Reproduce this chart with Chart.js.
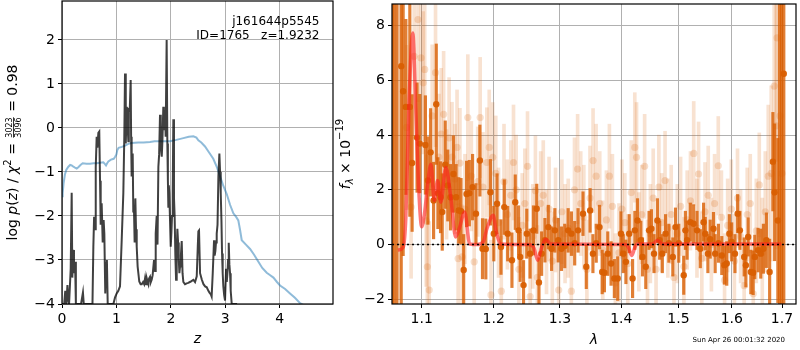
<!DOCTYPE html>
<html>
<head>
<meta charset="utf-8">
<script src="https://cdn.jsdelivr.net/npm/chart.js@4.4.1/dist/chart.umd.min.js"></script>
<style>
  html, body { margin: 0; padding: 0; background: #fff; }
  #wrap { position: relative; width: 800px; height: 350px; }
  #pz { position: absolute; left: 0; top: 0; }
  #spec { position: absolute; left: 335px; top: 0; }
</style>
</head>
<body>
<div id="wrap">
  <canvas id="pz" width="340" height="350"></canvas>
  <canvas id="spec" width="465" height="350"></canvas>
</div>
<script>
// ---- redshift probability, log p(z) ----
const objName = 'j161644p5545';
const objId = 1765;
const zBest = 1.9232;

const zGrid = [
  0.00, 0.04, 0.06, 0.08, 0.10, 0.115, 0.13, 0.16, 0.178, 0.19,
  0.205, 0.22, 0.24, 0.255, 0.30, 0.35, 0.385, 0.40, 0.50, 0.56,
  0.576, 0.59, 0.607, 0.62, 0.637, 0.65, 0.668, 0.685, 0.699, 0.711,
  0.729, 0.748, 0.765, 0.778, 0.795, 0.809, 0.825, 0.84, 0.90, 0.944,
  0.975, 1.005, 1.035, 1.066, 1.097, 1.127, 1.145, 1.158, 1.168, 1.176,
  1.19, 1.20, 1.219, 1.228, 1.245, 1.262, 1.27, 1.28, 1.299, 1.31,
  1.323, 1.335, 1.348, 1.36, 1.373, 1.39, 1.42, 1.445, 1.465, 1.49,
  1.51, 1.526, 1.545, 1.556, 1.575, 1.587, 1.60, 1.618, 1.633, 1.648,
  1.665, 1.691, 1.71, 1.722, 1.74, 1.755, 1.771, 1.785, 1.801, 1.815,
  1.833, 1.845, 1.862, 1.872, 1.881, 1.893, 1.905, 1.9232, 1.936, 1.946,
  1.954, 1.963, 1.972, 1.985, 1.998, 2.01, 2.022, 2.035, 2.046, 2.058,
  2.07, 2.083, 2.096, 2.108, 2.12, 2.133, 2.145, 2.157, 2.169, 2.185,
  2.20, 2.215, 2.23, 2.26, 2.292, 2.32, 2.35, 2.38, 2.414, 2.445,
  2.476, 2.495, 2.506, 2.518, 2.537, 2.57, 2.60, 2.63, 2.66, 2.69,
  2.71, 2.735, 2.75, 2.77, 2.794, 2.805, 2.818, 2.83, 2.843, 2.858,
  2.874, 2.892, 2.905, 2.917, 2.93, 2.941, 2.953, 2.965, 2.98, 2.996,
  3.015, 3.028, 3.04, 3.052, 3.064, 3.076, 3.088, 3.10, 3.119, 3.20,
  3.25
];
const logPz = [
  -4.00, -4.00, -3.70, -4.00, -3.57, -3.90, -4.00, -3.20, -1.47, -3.40,
  -2.77, -3.30, -3.04, -4.00, -4.00, -4.00, -3.74, -4.00, -4.00, -4.00,
  -2.70, -2.02, -2.30, -0.90, -0.20, -0.45, -0.11, -0.08, -1.20, -2.20,
  -1.71, -2.60, -2.09, -2.40, -3.76, -3.07, -3.00, -4.00, -4.00, -4.00,
  -3.85, -3.76, -3.70, -3.60, -2.55, -1.48, -0.20, 1.24, 0.30, -0.35,
  0.48, 0.20, -0.30, 0.42, 0.40, 1.09, -0.20, -1.10, -0.58, -1.90,
  -1.86, -2.60, -1.60, -2.30, -2.70, -3.15, -3.49, -3.55, -3.55, -3.50,
  -3.55, -3.42, -3.55, -3.41, -3.50, -3.55, -3.42, -3.38, -3.50, -3.45,
  -3.35, -3.00, -3.25, -2.40, -2.00, -2.65, -0.88, -0.60, 0.30, -0.40,
  -0.65, -0.30, 0.48, 0.10, -0.05, 0.40, -0.20, 2.00, -0.35, -1.20,
  -1.79, -1.30, -1.48, -2.10, -2.70, -2.40, -2.00, -1.40, 0.20, -1.60,
  -2.00, -2.90, -3.45, -2.80, -2.29, -2.60, -2.95, -3.30, -3.15, -2.90,
  -2.57, -3.30, -3.50, -3.55, -3.53, -3.52, -3.50, -3.48, -3.45, -3.50,
  -3.37, -2.70, -2.35, -2.33, -3.30, -3.45, -3.55, -3.60, -3.62, -3.70,
  -3.74, -3.78, -3.83, -3.30, -2.55, -2.90, -2.80, -2.60, -2.40, -2.20,
  -1.10, -0.58, -1.00, -1.48, -2.10, -2.85, -3.30, -3.60, -3.80, -3.92,
  -3.20, -3.50, -3.30, -3.00, -2.61, -3.10, -3.30, -3.70, -4.00, -4.00,
  -4.60
];

// prior curve
const zPrior = [
  0.00, 0.012, 0.03, 0.055, 0.08, 0.117, 0.15, 0.178, 0.21, 0.239,
  0.27, 0.30, 0.34, 0.38, 0.45, 0.515, 0.58, 0.637, 0.70, 0.76,
  0.79, 0.809, 0.83, 0.852, 0.90, 0.95, 0.974, 1.00, 1.017, 1.04,
  1.07, 1.10, 1.158, 1.22, 1.28, 1.40, 1.50, 1.618, 1.70, 1.74,
  1.85, 1.985, 2.10, 2.23, 2.33, 2.414, 2.47, 2.506, 2.56, 2.628,
  2.70, 2.78, 2.85, 2.904, 2.96, 3.027, 3.09, 3.149, 3.20, 3.24,
  3.27, 3.303, 3.38, 3.456, 3.53, 3.609, 3.68, 3.762, 3.82, 3.885,
  3.95, 4.007, 4.10, 4.19, 4.28, 4.375, 4.406, 4.50
];
const logPrior = [
  -1.55, -1.48, -1.25, -1.05, -0.95, -0.88, -0.84, -0.85, -0.88, -0.90,
  -0.92, -0.89, -0.84, -0.80, -0.81, -0.81, -0.80, -0.80, -0.79, -0.78,
  -0.82, -0.85, -0.80, -0.76, -0.72, -0.70, -0.66, -0.60, -0.50, -0.45,
  -0.44, -0.43, -0.40, -0.36, -0.34, -0.33, -0.33, -0.32, -0.30, -0.30,
  -0.30, -0.30, -0.27, -0.23, -0.20, -0.19, -0.22, -0.28, -0.33, -0.42,
  -0.55, -0.70, -0.90, -1.10, -1.30, -1.50, -1.75, -1.94, -2.02, -2.10,
  -2.30, -2.55, -2.65, -2.75, -2.88, -3.04, -3.18, -3.29, -3.34, -3.40,
  -3.50, -3.58, -3.66, -3.76, -3.86, -3.98, -4.00, -4.08
];

const zTicks = [0, 1, 2, 3, 4];
const pzTicks = [-4, -3, -2, -1, 0, 1, 2];

// ---- 1D spectrum ----
// first orientation (solid)
const lamDark = [
  1.0615, 1.0640, 1.0675, 1.0731, 1.0756, 1.0791, 1.0843, 1.0873, 1.0938, 1.0974,
  1.1049, 1.1083, 1.1119, 1.1159, 1.1195, 1.1217, 1.1253, 1.1276, 1.1317, 1.1352,
  1.1389, 1.1430, 1.1467, 1.1503, 1.1535, 1.1572, 1.1613, 1.1651, 1.1697, 1.1745,
  1.1801, 1.1838, 1.1886, 1.1952, 1.2001, 1.2048, 1.2106, 1.2154, 1.2204, 1.2267,
  1.2316, 1.2366, 1.2390, 1.2440, 1.2489, 1.2538, 1.2590, 1.2640, 1.2674, 1.2715,
  1.2766, 1.2818, 1.2869, 1.2920, 1.2972, 1.3024, 1.3075, 1.3129, 1.3181, 1.3233,
  1.3287, 1.3367, 1.3420, 1.3482, 1.3528, 1.3582, 1.3636, 1.3680, 1.3717, 1.3773,
  1.3828, 1.3883, 1.3939, 1.3994, 1.4033, 1.4078, 1.4134, 1.4192, 1.4231, 1.4277,
  1.4334, 1.4363, 1.4420, 1.4477, 1.4519, 1.4564, 1.4624, 1.4664, 1.4711, 1.4769,
  1.4828, 1.4899, 1.4947, 1.5006, 1.5097, 1.5127, 1.5158, 1.5218, 1.5278, 1.5341,
  1.5402, 1.5463, 1.5494, 1.5544, 1.5587, 1.5649, 1.5681, 1.5743, 1.5807, 1.5857,
  1.5902, 1.5952, 1.5998, 1.6061, 1.6113, 1.6157, 1.6241, 1.6274, 1.6319, 1.6372,
  1.6417, 1.6450, 1.6515, 1.6569, 1.6622, 1.6682, 1.6748, 1.6814, 1.6849, 1.6915,
  1.6950, 1.6990, 1.7037
];
const fluxDark = [
  10.0, -4.0, 12.0, 6.52, 5.60, 5.03, 5.03, 2.98, 3.91, 3.69,
  3.64, 2.34, 3.37, 1.61, 5.13, 1.88, 1.73, 1.19, 2.92, 2.16,
  1.73, 2.58, 1.73, 1.25, 1.22, -0.93, 1.85, 1.88, 2.10, 1.13,
  3.07, -0.15, -0.16, 1.91, 0.40, 1.49, -0.09, 1.37, 0.40, -0.57,
  1.55, 0.52, -0.45, -1.48, 0.40, -0.33, 0.52, 1.31, -1.38, -0.33,
  0.16, 0.64, -0.15, 0.52, 0.16, -0.15, -0.05, 0.52, 0.40, 0.05,
  0.52, 1.13, -0.81, 1.25, -0.33, 0.05, 0.64, -1.00, -1.03, -0.33,
  -0.69, -1.24, -1.24, 0.40, -0.33, -0.63, 0.40, -1.24, 0.52, 0.88,
  0.16, -0.45, -0.81, 0.52, 0.58, -0.33, 0.88, 0.16, -0.33, 0.40,
  0.05, -0.45, 0.64, 0.05, -1.12, 0.52, 0.16, 0.82, 0.76, 0.52,
  -0.15, 0.82, 0.40, -0.33, 0.20, 0.58, -0.33, 0.05, -0.40, -0.75,
  -0.69, 0.40, 0.10, -0.33, 1.13, 0.52, -0.45, -0.75, 0.28, -1.00,
  -1.03, -0.45, -0.20, -0.33, -0.15, 0.16, -1.00, 3.03, 1.91, 0.88,
  10.0, 10.0, 6.24
];
const errDark = [
  15, 15, 15, 9.0, 6.0, 3.2, 4.0, 2.5, 2.0, 1.8,
  1.8, 1.6, 1.6, 1.4, 2.2, 1.3, 1.3, 1.4, 1.6, 1.3,
  1.2, 1.4, 1.2, 1.2, 1.2, 1.3, 1.2, 1.2, 1.2, 1.1,
  1.3, 1.1, 1.1, 1.2, 1.0, 1.1, 1.0, 1.0, 1.0, 1.0,
  1.0, 0.9, 0.9, 0.9, 0.9, 0.9, 0.9, 0.9, 0.9, 0.8,
  0.8, 0.8, 0.8, 0.8, 0.8, 0.8, 0.8, 0.8, 0.8, 0.8,
  0.8, 0.8, 0.8, 0.8, 0.7, 0.7, 0.8, 0.8, 0.7, 0.8,
  0.8, 0.7, 0.8, 0.8, 0.7, 0.8, 0.7, 0.7, 0.7, 0.8,
  0.7, 0.7, 0.8, 0.7, 0.7, 0.7, 0.8, 0.7, 0.7, 0.7,
  0.7, 0.7, 0.7, 0.7, 0.7, 0.7, 0.7, 0.7, 0.7, 0.7,
  0.7, 0.7, 0.6, 0.7, 0.7, 0.6, 0.7, 0.7, 0.7, 0.7,
  0.8, 0.7, 0.7, 0.7, 0.7, 0.7, 0.7, 0.8, 0.7, 0.8,
  0.8, 0.8, 0.8, 0.9, 0.9, 1.0, 1.2, 1.8, 2.5, 3.0,
  13, 13, 8.5
];

// second orientation (faint)
const lamLight = [
  1.0650, 1.0710, 1.0800, 1.0860, 1.0900, 1.0950, 1.0990, 1.1020, 1.1040, 1.1060,
  1.1075, 1.1100, 1.1140, 1.1185, 1.1230, 1.1262, 1.1295, 1.1335, 1.1370, 1.1410,
  1.1450, 1.1480, 1.1495, 1.1520, 1.1550, 1.1590, 1.1630, 1.1680, 1.1720, 1.1770,
  1.1805, 1.1845, 1.1900, 1.1935, 1.1960, 1.1985, 1.2030, 1.2070, 1.2110, 1.2150,
  1.2200, 1.2250, 1.2290, 1.2330, 1.2370, 1.2420, 1.2460, 1.2500, 1.2540, 1.2580,
  1.2620, 1.2650, 1.2700, 1.2740, 1.2790, 1.2830, 1.2880, 1.2930, 1.2980, 1.3030,
  1.3080, 1.3130, 1.3180, 1.3230, 1.3280, 1.3330, 1.3380, 1.3430, 1.3480, 1.3530,
  1.3580, 1.3640, 1.3690, 1.3750, 1.3800, 1.3850, 1.3900, 1.3960, 1.4010, 1.4060,
  1.4110, 1.4170, 1.4230, 1.4260, 1.4300, 1.4350, 1.4400, 1.4450, 1.4500, 1.4550,
  1.4600, 1.4650, 1.4700, 1.4760, 1.4810, 1.4870, 1.4920, 1.4980, 1.5040, 1.5100,
  1.5160, 1.5220, 1.5280, 1.5340, 1.5370, 1.5430, 1.5490, 1.5550, 1.5610, 1.5670,
  1.5740, 1.5800, 1.5860, 1.5920, 1.5990, 1.6050, 1.6110, 1.6170, 1.6240, 1.6300,
  1.6360, 1.6420, 1.6480, 1.6540, 1.6600, 1.6660, 1.6720, 1.6780, 1.6840, 1.6880,
  1.6900, 1.6960, 1.7000
];
const fluxLight = [
  11.0, 11.0, 4.28, 1.37, 6.88, 8.22, 6.82, 5.91, 6.40, 0.87,
  -0.81, -1.66, 4.70, 6.28, 3.20, 4.04, 4.76, 2.20, 3.90, 3.20,
  2.40, 3.55, -0.51, 2.98, -0.45, 1.30, 4.64, 2.50, -0.63, 2.30,
  4.64, 2.10, 3.00, 3.55, -1.84, 3.19, 2.60, 0.80, -1.70, 2.30,
  1.10, 1.80, 3.00, 2.00, -0.90, 0.70, 1.50, 2.86, -1.90, 0.30,
  1.97, -1.20, 1.50, 1.80, 0.10, 1.30, -0.60, 0.90, -1.66, 1.20,
  0.40, 0.60, -1.70, 2.00, 2.76, 1.50, 1.00, -0.90, 1.70, 3.07,
  2.50, 1.50, -0.20, 0.90, 2.50, 1.40, -1.40, -0.30, 1.30, 0.80,
  -0.70, 1.90, 3.55, 3.19, 0.10, 1.10, 2.86, -0.90, 0.40, 1.70,
  -0.90, 2.10, 0.80, 2.34, 0.60, 1.10, -1.20, 0.40, 1.40, -0.80,
  0.90, 1.60, 3.33, 0.60, 2.58, -0.50, 1.20, 1.80, 0.00, 1.50,
  2.88, 1.00, -1.30, 0.70, 1.30, -0.60, 1.70, 0.30, -1.50, 1.10,
  1.50, -1.80, 0.50, 2.18, -0.30, 1.20, 2.50, 2.60, 5.79, 4.34,
  7.55, 4.70, 2.60
];
const errLight = [
  13, 13, 3.0, 2.6, 3.0, 3.0, 2.8, 2.6, 2.6, 2.4,
  2.5, 2.5, 2.6, 2.7, 2.3, 2.4, 2.3, 2.0, 2.2, 2.0,
  2.0, 2.1, 2.0, 2.0, 1.9, 2.0, 2.3, 2.0, 1.9, 2.0,
  2.2, 2.0, 2.0, 2.1, 2.0, 2.0, 2.1, 2.0, 2.0, 2.1,
  2.0, 2.0, 2.1, 2.0, 1.9, 1.9, 2.0, 2.0, 1.9, 1.9,
  2.0, 1.9, 1.9, 2.0, 1.9, 1.9, 1.8, 1.9, 1.8, 1.9,
  1.8, 1.8, 1.8, 1.9, 2.0, 1.9, 1.9, 1.8, 1.9, 1.9,
  1.9, 1.9, 1.8, 1.8, 1.9, 1.9, 1.8, 1.8, 1.8, 1.8,
  1.8, 1.9, 2.0, 2.0, 1.8, 1.8, 1.9, 1.8, 1.8, 1.8,
  1.8, 1.9, 1.8, 1.8, 1.8, 1.8, 1.8, 1.8, 1.8, 1.8,
  1.8, 1.8, 1.9, 1.8, 1.9, 1.7, 1.8, 1.8, 1.7, 1.8,
  1.8, 1.7, 1.7, 1.7, 1.8, 1.7, 1.8, 1.7, 1.7, 1.7,
  1.8, 1.8, 1.9, 1.9, 2.0, 2.2, 2.6, 3.2, 4.0, 4.5,
  4.5, 6.0, 9.0
];

// best-fit model
const lamModel = [
  1.0688, 1.0756, 1.0791, 1.0830, 1.0882, 1.0921, 1.0961, 1.1000, 1.1040, 1.1083,
  1.1123, 1.1168, 1.1213, 1.1257, 1.1325, 1.1393, 1.1460, 1.1512, 1.1586, 1.1657,
  1.1763, 1.1848, 1.1904, 1.1993, 1.2034, 1.2106, 1.2518, 1.2594, 1.2654, 1.2715,
  1.2777, 1.2853, 1.4078, 1.4120, 1.4180, 1.4231, 1.4279, 1.4541, 1.4625, 1.4716,
  1.6985
];
const fluxModel = [
  -0.20, -0.10, 1.00, 5.00, 7.73, 5.00, 2.00, 0.65, 1.20, 2.30,
  2.94, 1.61, 2.34, 1.55, 2.82, 1.73, 0.28, 0.60, 1.19, 0.02,
  0.00, 0.10, 0.60, 1.07, 0.50, 0.02, 0.00, -0.10, -0.57, -0.10,
  0.20, 0.02, 0.00, -0.10, -0.40, -0.10, 0.02, 0.02, 0.15, 0.02,
  0.02
];

const lamMin = 1.0612, lamMax = 1.729;
const lamTicks = [1.1, 1.2, 1.3, 1.4, 1.5, 1.6, 1.7];
const fluxTicks = [-2, 0, 2, 4, 6, 8];

// ---- shared helpers ----
const FAMILY = '"DejaVu Sans", sans-serif';
Chart.defaults.font.family = FAMILY;
Chart.defaults.color = '#000';

const minus = v => String(v).replace('-', '\u2212');
const fixedTicks = values => scale => { scale.ticks = values.map(v => ({ value: v })); };
// fixed axis box, and no extra room for labels hanging past the ends
const axisWidth = w => scale => {
  scale.width = w;
  scale.paddingTop = scale.paddingBottom = 0;
};
const axisHeight = h => scale => {
  scale.height = h;
  scale.paddingLeft = scale.paddingRight = 0;
};
const font = (size, italic) => (italic ? 'italic ' : '') + size + 'px ' + FAMILY;
const xy = (xs, ys) => xs.map((x, i) => ({ x: x, y: ys[i] }));
const bars = (xs, ys, es) => xs.map((x, i) => ({ x: x, y: [ys[i] - es[i], ys[i] + es[i]] }));

const gridOpts = { color: '#b0b0b0', lineWidth: 1, tickColor: '#000', tickLength: 4, tickWidth: 1 };
const tickOpts = cb => ({ color: '#000', font: { size: 14 }, padding: 3, maxRotation: 0, autoSkip: false, callback: cb });

// box around the plot area
const frame = {
  id: 'frame',
  afterDraw(chart) {
    const { ctx, chartArea: a } = chart;
    ctx.save();
    ctx.strokeStyle = '#000';
    ctx.lineWidth = 1.2;
    ctx.strokeRect(a.left, a.top, a.right - a.left, a.bottom - a.top);
    ctx.restore();
  }
};

// text run with italics, sub/superscripts and one stacked fraction
function drawRich(ctx, parts, x, y, rotated) {
  ctx.save();
  ctx.fillStyle = '#000';
  ctx.textBaseline = 'alphabetic';
  let total = 0;
  parts.forEach(p => {
    if (p.frac) {
      ctx.font = font(p.size, false);
      p.w = Math.max(...p.frac.map(s => ctx.measureText(s).width)) + 2;
    } else {
      ctx.font = font(p.size || 14, p.it);
      p.w = ctx.measureText(p.t).width;
    }
    total += p.w;
  });
  ctx.translate(x, y);
  if (rotated) ctx.rotate(-Math.PI / 2);
  let cx = -total / 2;
  parts.forEach(p => {
    if (p.frac) {
      ctx.font = font(p.size, false);
      ctx.textAlign = 'center';
      ctx.fillText(p.frac[0], cx + p.w / 2, -5);
      ctx.fillText(p.frac[1], cx + p.w / 2, 3.5);
      ctx.fillRect(cx + 1, -4, p.w - 2, 0.8);
    } else {
      ctx.font = font(p.size || 14, p.it);
      ctx.textAlign = 'left';
      ctx.fillText(p.t, cx, p.dy || 0);
    }
    cx += p.w;
  });
  ctx.restore();
}

// ---- left panel: p(z) ----
const pzText = {
  id: 'pzText',
  afterDraw(chart) {
    const { ctx, chartArea: a } = chart;
    const xr = a.right - 0.05 * (a.right - a.left);
    ctx.save();
    ctx.fillStyle = '#000';
    ctx.font = font(12, false);
    ctx.textAlign = 'right';
    ctx.fillText(objName, xr, a.top + 23.5);
    ctx.fillText('ID=' + objId + '   z=' + zBest.toFixed(4), xr, a.top + 37.5);
    ctx.restore();
    drawRich(ctx, [
      { t: 'log ' }, { t: 'p', it: true }, { t: '(' }, { t: 'z', it: true }, { t: ') / ' },
      { t: '\u03c7', it: true }, { t: '2', size: 10, dy: -6 }, { t: ' = ' },
      { frac: ['3023', '3096'], size: 8 }, { t: ' = 0.98' }
    ], 17, (a.top + a.bottom) / 2, true);
    drawRich(ctx, [{ t: 'z', it: true }], (a.left + a.right) / 2, 343, false);
  }
};

new Chart(document.getElementById('pz'), {
  type: 'line',
  data: {
    datasets: [
      {
        data: xy(zGrid, logPz),
        borderColor: 'rgba(0,0,0,0.75)',
        borderWidth: 2,
        pointRadius: 0,
        tension: 0,
        clip: 0,
        order: 1
      },
      {
        data: xy(zPrior, logPrior),
        borderColor: 'rgba(31,119,180,0.5)',
        borderWidth: 2,
        pointRadius: 0,
        tension: 0,
        clip: 0,
        order: 2
      }
    ]
  },
  options: {
    responsive: false,
    animation: false,
    layout: { padding: { top: 1, right: 7, left: 0, bottom: 0 } },
    plugins: { legend: { display: false }, tooltip: { enabled: false } },
    scales: {
      x: {
        type: 'linear', min: 0, max: 4.98,
        afterBuildTicks: fixedTicks(zTicks), afterFit: axisHeight(46),
        grid: gridOpts, border: { display: false },
        ticks: tickOpts(v => minus(v))
      },
      y: {
        type: 'linear', min: -4, max: 2.886,
        afterBuildTicks: fixedTicks(pzTicks), afterFit: axisWidth(62),
        grid: gridOpts, border: { display: false },
        ticks: tickOpts(v => minus(v))
      }
    }
  },
  plugins: [frame, pzText]
});

// ---- right panel: spectrum ----
const specText = {
  id: 'specText',
  afterDraw(chart) {
    const { ctx, chartArea: a } = chart;
    drawRich(ctx, [
      { t: 'f', it: true }, { t: '\u03bb', it: true, size: 10, dy: 3 },
      { t: ' \u00d7 10' }, { t: '\u221219', size: 10, dy: -6.5 }
    ], 14.5, (a.top + a.bottom) / 2, true);
    drawRich(ctx, [{ t: '\u03bb', it: true }], (a.left + a.right) / 2, 344, false);
    ctx.save();
    ctx.fillStyle = '#000';
    ctx.font = font(7, false);
    ctx.textAlign = 'right';
    ctx.fillText('Sun Apr 26 00:01:32 2020', a.right - 11, 342);
    ctx.restore();
  }
};

const orange = 'rgba(217,95,2,';

new Chart(document.getElementById('spec'), {
  type: 'bar',
  data: {
    datasets: [
      {
        type: 'line',
        data: [{ x: lamMin, y: 0 }, { x: lamMax, y: 0 }],
        borderColor: '#000', borderWidth: 1.5, borderDash: [2, 3],
        pointRadius: 0, clip: 0, order: 1
      },
      {
        type: 'line',
        data: xy(lamModel, fluxModel),
        borderColor: 'rgba(255,30,30,0.6)', borderWidth: 3.5,
        cubicInterpolationMode: 'monotone',
        pointRadius: 0, clip: 0, order: 2
      },
      {
        type: 'scatter',
        data: xy(lamDark, fluxDark),
        backgroundColor: orange + '0.95)', borderColor: orange + '0.95)',
        pointRadius: 3.2, pointBorderWidth: 0, clip: 0, order: 3
      },
      {
        type: 'bar',
        data: bars(lamDark, fluxDark, errDark),
        backgroundColor: orange + '0.8)', borderWidth: 0,
        barThickness: 2.5, grouped: false, clip: 0, order: 4
      },
      {
        type: 'scatter',
        data: xy(lamLight, fluxLight),
        backgroundColor: orange + '0.2)', borderColor: orange + '0.2)',
        pointRadius: 3.6, pointBorderWidth: 0, clip: 0, order: 5
      },
      {
        type: 'bar',
        data: bars(lamLight, fluxLight, errLight),
        backgroundColor: orange + '0.18)', borderWidth: 0,
        barThickness: 3, grouped: false, clip: 0, order: 6
      }
    ]
  },
  options: {
    responsive: false,
    animation: false,
    layout: { padding: { top: 1, right: 1, left: 0, bottom: 0 } },
    plugins: { legend: { display: false }, tooltip: { enabled: false } },
    scales: {
      x: {
        type: 'logarithmic', min: lamMin, max: lamMax, offset: false,
        afterBuildTicks: fixedTicks(lamTicks), afterFit: axisHeight(46),
        grid: Object.assign({ offset: false }, gridOpts), border: { display: false },
        ticks: tickOpts(v => Number(v).toFixed(1))
      },
      y: {
        type: 'linear', min: -2.17, max: 8.79,
        afterBuildTicks: fixedTicks(fluxTicks), afterFit: axisWidth(57),
        grid: gridOpts, border: { display: false },
        ticks: tickOpts(v => minus(v))
      }
    }
  },
  plugins: [frame, specText]
});
</script>
</body>
</html>
